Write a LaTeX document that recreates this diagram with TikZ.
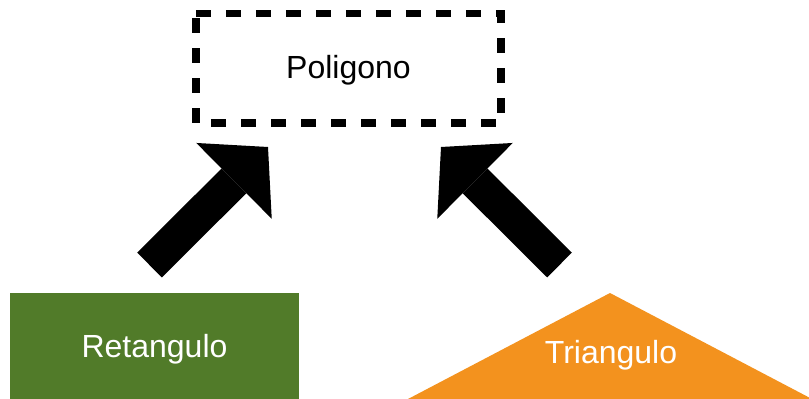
\documentclass[tikz,border=0pt]{standalone}
\usepackage{fontspec}
\setmainfont{Liberation Sans}
\usetikzlibrary{arrows.meta}
\definecolor{rectgreen}{RGB}{81,123,41}
\definecolor{triorange}{RGB}{243,146,30}
\tikzset{
  label text/.style={font=\fontsize{32}{38}\selectfont, text height=23pt, text depth=0pt, inner sep=0pt},
  abstractbox/.style={label text, text depth=3.2pt, minimum width=305pt, minimum height=108.75pt},
  dashborder/.style={draw=black, line width=7.7pt, dash pattern=on 15pt off 15pt},
  fatarrow/.style={line width=35pt, draw=black, -{Triangle[length=48pt, width=107pt, line width=0pt]}}
}
\begin{document}
\begin{tikzpicture}[x=1pt, y=-1pt]
\useasboundingbox (0,0) rectangle (809,399);
\clip (0,0) rectangle (809,399);
% abstract superclass
\node[abstractbox] (poligono) at (348.5,68.125) {Poligono};
\draw[dashborder] (poligono.north west) -- (poligono.north east) -- (poligono.south east) -- (poligono.south west) -- cycle;
% rectangle
\node[fill=rectgreen, text=white, minimum width=289pt, minimum height=106pt, label text] (retangulo) at (154.5,346) {Retangulo};
% triangle
\fill[triorange] (610,293) -- (408,399) -- (812,399) -- cycle;
\node[text=white, label text, anchor=base] (triangulo) at (611,363) {Triangulo};
% arrows
\coordinate (ltail) at (149.5,265);
\coordinate (ltip) at (268,147);
\coordinate (rtail) at (559.5,265);
\coordinate (rtip) at (441,147);
\draw[fatarrow] (ltail) -- (ltip);
\draw[fatarrow] (rtail) -- (rtip);
\end{tikzpicture}
\end{document}
